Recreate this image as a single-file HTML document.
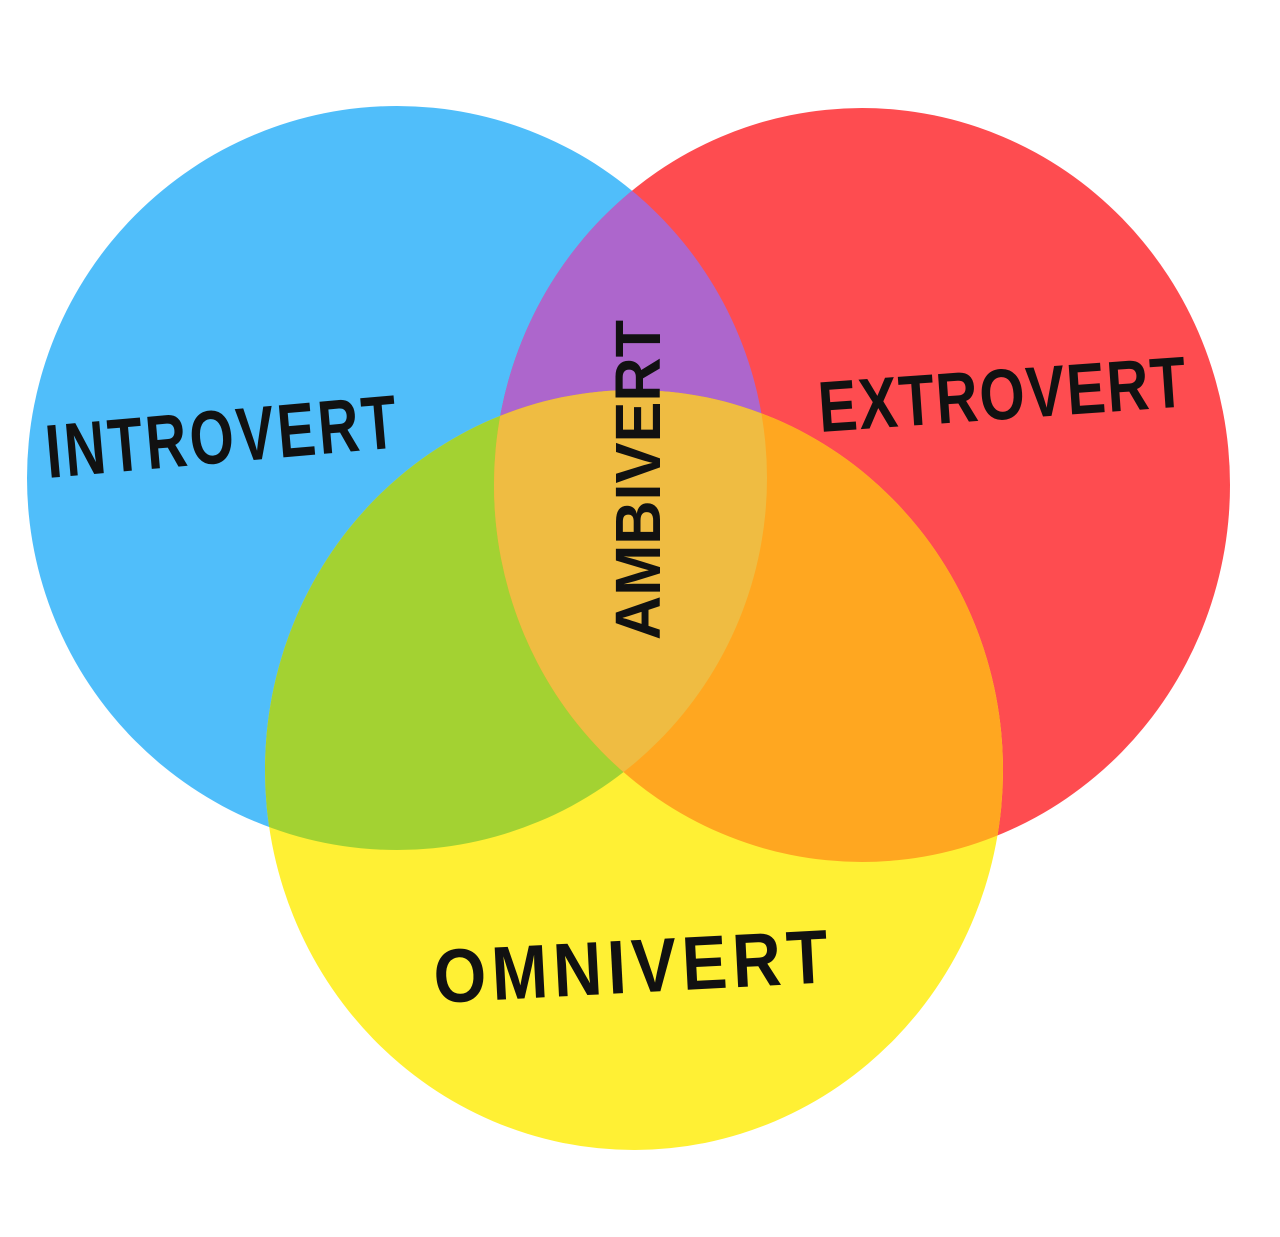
<!DOCTYPE html>
<html><head><meta charset="utf-8"><style>
html,body{margin:0;padding:0;background:#fff;width:1280px;height:1237px;overflow:hidden}
svg text{font-family:"Liberation Sans",sans-serif;font-weight:bold;fill:#111}
</style></head><body>
<svg width="1280" height="1237" viewBox="0 0 1280 1237">
<defs>
<clipPath id="cb"><ellipse cx="397" cy="478" rx="370" ry="372"/></clipPath>
<clipPath id="cr"><ellipse cx="862" cy="485" rx="368" ry="377"/></clipPath>
</defs>
<ellipse cx="397" cy="478" rx="370" ry="372" fill="#50BEFA"/>
<ellipse cx="862" cy="485" rx="368" ry="377" fill="#FE4C50"/>
<ellipse cx="634" cy="770" rx="369" ry="380" fill="#FFF034"/>
<g clip-path="url(#cb)"><ellipse cx="862" cy="485" rx="368" ry="377" fill="#AD66CC"/><ellipse cx="634" cy="770" rx="369" ry="380" fill="#A3D232"/></g>
<g clip-path="url(#cr)"><ellipse cx="634" cy="770" rx="369" ry="380" fill="#FFA720"/></g>
<g clip-path="url(#cb)"><g clip-path="url(#cr)"><ellipse cx="634" cy="770" rx="369" ry="380" fill="#EFBC42"/></g></g>
<text x="48" y="478" font-size="76" letter-spacing="4" textLength="355" lengthAdjust="spacingAndGlyphs" transform="rotate(-5 48 478)">INTROVERT</text>
<text x="820" y="432" font-size="72" letter-spacing="2" textLength="370" lengthAdjust="spacingAndGlyphs" transform="rotate(-4 820 432)">EXTROVERT</text>
<text x="435" y="1003" font-size="76" letter-spacing="6" textLength="400" lengthAdjust="spacingAndGlyphs" transform="rotate(-3 435 1003)">OMNIVERT</text>
<text x="660" y="640" font-size="64" textLength="320" lengthAdjust="spacingAndGlyphs" transform="rotate(-90 660 640)">AMBIVERT</text>
</svg>
</body></html>
